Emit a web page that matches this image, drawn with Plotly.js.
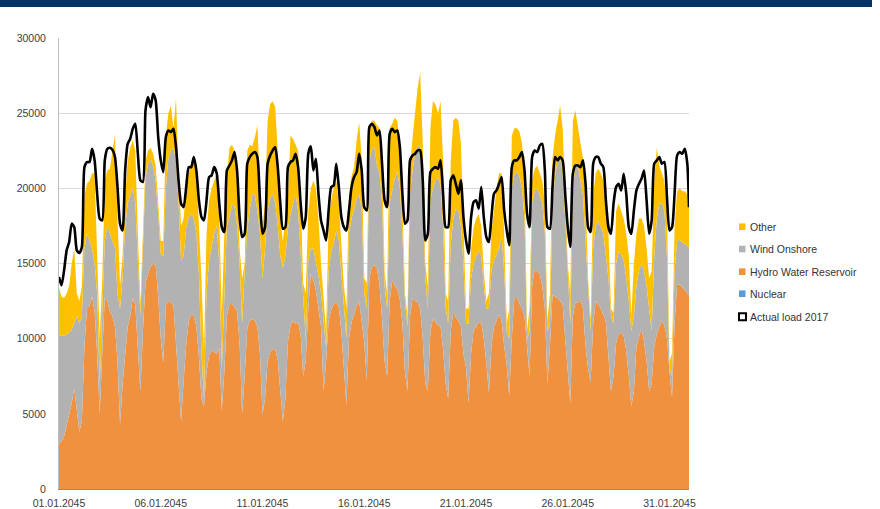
<!DOCTYPE html>
<html><head><meta charset="utf-8">
<script src="https://cdn.plot.ly/plotly-3.0.1.min.js"></script>
<style>
html,body{margin:0;padding:0;background:#fff;}
#chart{width:880px;height:509px;position:absolute;left:0;top:0;}
#banner{position:absolute;left:0;top:0;width:872px;height:7px;background:#003366;z-index:10;}
</style>
</head><body>
<div id="chart"></div><div id="banner"></div>
<script>
// ---- Data (MW), sampled every 3 hours: 00,03,...,21 for each day of January 2045, plus 31.01 23:00 ----
const sampleHours = [0,3,6,9,12,15,18,21];
const nDays = 31;
const lastStamp = '2045-01-31 23:00';

const nuclearTimes = ['2045-01-01 00:00', '2045-01-31 23:00'];
const nuclear = [0, 0];

const hydro = [
 3000,3200,3500,4200,5000,5700,6700,5000,
 3800,4500,9500,12000,12200,12800,11800,9000,
 5000,9000,12700,12500,11800,11500,10800,8500,
 4300,7000,9200,10800,11500,12700,12200,9300,
 6500,10500,13700,14300,14800,15000,14900,12800,
 10000,8400,12200,12500,12400,12200,9800,7000,
 4500,7200,9600,11200,11600,11500,10800,8800,
 6000,5500,7800,8900,9200,9100,9000,9400,
 5200,7800,11500,12300,12300,12100,11800,9700,
 5000,7500,10700,11200,11300,11200,10800,9000,
 5000,6000,8500,9100,9300,9300,8600,6500,
 4500,6000,9800,10900,11200,11000,11100,10300,
 7500,8500,12000,14300,13900,13200,12000,10800,
 6500,8500,11200,11900,12300,12400,12100,10500,
 8000,5600,10000,11100,11600,12200,12500,11000,
 9800,7200,14000,14800,14900,14650,13600,11300,
 8500,7500,12500,13900,13500,13300,12600,11000,
 7800,6500,11500,12700,12500,12400,12000,10000,
 7000,6500,10500,11300,11100,10900,10800,9300,
 7000,6000,10500,11800,11400,11200,10800,9000,
 8100,5700,9000,10600,10800,11100,11100,10000,
 8400,6400,9500,10800,11200,11600,11200,9500,
 8300,6200,10000,12700,12700,12400,12000,11500,
 9500,7500,13500,14600,14500,14300,13500,12000,
 7000,9500,12900,12800,12700,12500,12300,10000,
 7500,5700,11500,12400,12400,12550,12000,9500,
 8000,7100,11000,12500,12300,12000,11600,11100,
 8700,6500,7500,9700,10300,10400,10200,9200,
 7500,5500,6500,9500,10100,10700,9800,8500,
 6500,7000,9500,10300,10800,11200,10900,10000,
 7800,6100,11000,13600,13600,13400,13200,13000,
 12900
];

const windOnshore = [
 7200,7000,6700,6100,5400,4900,4300,6500,
 7200,7000,6500,5000,4300,3200,3200,4000,
 2000,3000,3800,5000,5200,5000,5200,4500,
 7700,7000,8200,8200,8000,7300,6800,6200,
 5000,5500,7000,7300,7100,6500,5600,5500,
 5600,7100,7800,9500,10100,10500,12000,12000,
 10700,8300,7800,6900,6700,6500,6200,5500,
 3000,500,5200,6300,6900,7900,8500,5600,
 2800,5200,6000,5800,6600,6700,5700,5300,
 6000,7000,6500,7400,8300,8300,7700,8000,
 9000,10000,10000,10200,10300,9700,8900,9000,
 10200,9500,7500,7400,7800,8600,7400,5200,
 5000,1400,3200,1700,2100,2000,2200,2200,
 4500,900,3300,3900,4000,4800,4400,4000,
 4000,4400,7000,6900,7000,7100,7100,7500,
 3200,4800,7800,7800,7800,6850,7400,7700,
 5000,4500,6500,5900,7200,7800,7400,6000,
 4700,4300,8100,8500,9800,10500,10700,9600,
 7000,5500,8700,8700,9400,9800,9400,8200,
 5000,5000,5800,6200,7200,7300,6700,6000,
 2900,5300,5000,4400,4700,4700,4400,3500,
 3600,5600,5000,4400,4400,4400,5600,5000,
 2200,3800,10000,8200,8400,8400,8000,6500,
 500,3000,5500,5200,5500,5200,5500,5000,
 3500,1500,6100,8000,9100,9500,8700,8000,
 6500,5300,8000,9400,9100,7950,7500,7000,
 5000,3400,5000,5000,5500,5400,5400,4400,
 5300,5000,3500,5300,5500,5200,5000,4800,
 5000,5000,5000,4000,4400,4300,4700,5000,
 5500,3500,6000,7700,8200,7800,7600,5500,
 200,1400,3500,2900,3000,3000,3100,3200,
 3100
];

const other = [
 3200,2600,2500,2700,3100,4400,5000,1500,
 1500,2000,3500,3300,4000,5000,6000,3000,
 3000,2000,4000,3700,4300,6000,7500,5000,
 1500,1500,2100,2800,3200,3200,3500,1500,
 800,1000,1100,900,800,800,1000,700,
 900,1000,3500,3000,3000,1300,4200,2000,
 2300,2500,2600,2900,3500,3800,4000,3200,
 5000,3200,4000,4000,3900,3500,3500,3000,
 3700,4000,3300,4600,4000,3700,3500,1000,
 3000,500,5300,4300,3200,3900,5700,3000,
 3500,3000,6000,6300,6200,6400,5000,2500,
 1800,2500,2200,5200,4300,3300,4000,4000,
 1200,3100,3300,4000,4500,4800,3800,2000,
 1500,1100,3300,3400,3700,3300,2500,1500,
 1500,2000,2500,2800,2800,3900,4800,3500,
 1000,1700,2200,1900,1800,2700,3000,3000,
 1000,1000,5000,4500,4000,3400,3000,2000,
 500,700,1800,2200,2900,3800,5000,3400,
 1000,1500,4800,5800,5100,4300,5600,4300,
 1000,1500,5500,6500,6100,6000,5500,3000,
 1000,1000,2000,2400,2500,2500,2000,1000,
 500,1000,2500,3300,4400,5000,4200,2500,
 500,2000,3500,3100,2900,3000,3000,3000,
 600,1500,1500,1500,1500,1500,1500,2000,
 700,2000,3000,2700,2700,3500,3000,2000,
 1000,2000,5000,3400,2500,2500,2500,3000,
 1000,700,3500,3500,3500,3600,3500,3000,
 3000,500,700,3500,3200,2900,2800,3000,
 3000,1000,3500,3500,3500,3000,3000,2500,
 2000,4000,5000,4700,2500,2000,2000,3000,
 500,1500,3000,3300,3400,3400,3500,3400,
 3500
];

const actualLoad2017 = [
 14100,13550,14540,15870,16430,17650,17420,15870,
 15700,16100,21410,21750,21750,22630,21860,19640,
 17980,17870,21860,22630,22700,22560,22080,20080,
 17650,17200,21190,22960,23300,23960,24300,22300,
 20530,20420,25180,26070,25400,26290,25850,23410,
 21860,21080,23410,23850,23740,23960,22740,20530,
 18980,18750,20080,21410,21410,22080,21190,19200,
 18090,17870,19200,20750,20860,21410,21000,19000,
 17420,17090,21190,21520,21860,22410,21190,18090,
 16760,16980,21640,22080,22300,22410,22080,19200,
 16980,17420,21640,22190,22520,22740,21410,18980,
 17310,17420,21410,21750,21860,22300,21410,18980,
 17310,18090,22300,22790,21190,21970,19640,17870,
 17200,16540,18530,20080,20190,21640,20080,18090,
 17420,17200,18530,20080,20750,21080,22300,21190,
 18750,18530,24070,24290,24070,23520,23850,21630,
 19200,18750,23630,23960,23740,23850,22740,19640,
 17650,17870,21860,22190,22300,22520,22520,20530,
 16540,16980,21080,21300,21410,21300,21860,19640,
 17420,17420,20530,20860,20300,19640,20530,18090,
 16540,15650,18090,19090,19200,18640,20080,18090,
 16760,16430,18090,19640,19860,20300,20750,18530,
 17200,16210,21410,21860,21860,22080,22410,21190,
 18310,17420,22080,22520,22410,22850,22960,21190,
 17420,17310,20080,22080,21860,22080,21860,19640,
 17420,16100,20970,21520,21520,21410,21860,20300,
 17420,17090,21640,22080,22080,21640,21410,19200,
 17420,16980,18980,20080,20300,19860,20970,19640,
 17420,16980,18530,19860,20300,20640,21190,19200,
 16980,17870,21640,21860,22080,21640,21750,19420,
 17200,17420,19640,22190,22410,22300,22630,21640,
 18750
];

const tickDates = ['2045-01-01','2045-01-06','2045-01-11','2045-01-16','2045-01-21','2045-01-26','2045-01-31'];
const tickLabels = ['01.01.2045','06.01.2045','11.01.2045','16.01.2045','21.01.2045','26.01.2045','31.01.2045'];
const yTicks = [0,5000,10000,15000,20000,25000,30000];

const legendNames = ['Other','Wind Onshore','Hydro Water Reservoir','Nuclear','Actual load 2017'];

// ---- time axis (sampling grid) ----
const pad = n => String(n).padStart(2,'0');
const time = [];
for (let d = 1; d <= nDays; d++) for (const h of sampleHours) time.push(`2045-01-${pad(d)} ${pad(h)}:00`);
time.push(lastStamp);

// ---- styles ----
const C = {other:'#ffc000', wind:'#b2b2b2', hydro:'#f0913f', nuclear:'#5b9bd5', load:'#000000'};
const FONT = 'Liberation Sans, Arial, sans-serif';

const W = 880, H = 509, M = {l:59, r:191, t:38, b:20};
const pw = W - M.l - M.r, ph = H - M.t - M.b;
const px2x = px => (px - M.l) / pw;
const py2y = py => (H - M.b - py) / ph;

const traces = [
 {x: nuclearTimes, y: nuclear, type:'scatter', mode:'lines', fill:'tozeroy', line:{width:0, color:C.nuclear}, fillcolor:C.nuclear, name:'Nuclear', showlegend:false, hoverinfo:'skip'},
 {x: time, y: hydro, type:'scatter', mode:'lines', stackgroup:'gen', line:{width:0, color:C.hydro}, fillcolor:C.hydro, name:'Hydro Water Reservoir', showlegend:false},
 {x: time, y: windOnshore, type:'scatter', mode:'lines', stackgroup:'gen', line:{width:0, color:C.wind}, fillcolor:C.wind, name:'Wind Onshore', showlegend:false},
 {x: time, y: other, type:'scatter', mode:'lines', stackgroup:'gen', line:{width:0, color:C.other}, fillcolor:C.other, name:'Other', showlegend:false},
 {x: time, y: actualLoad2017, type:'scatter', mode:'lines', line:{width:2.6, color:C.load, shape:'spline', smoothing:0.6}, name:'Actual load 2017', showlegend:false}
];

// ---- manual legend (small squares + labels) ----
const legendColors = [C.other, C.wind, C.hydro, C.nuclear, null];
const legY = [226.7, 249, 271.7, 293.7, 316.7];
const shapes = [];
const annotations = [];
legendNames.forEach((nm, i) => {
  const cy = legY[i];
  if (legendColors[i]) {
    shapes.push({type:'rect', xref:'paper', yref:'paper', x0:px2x(739), x1:px2x(745.5), y0:py2y(cy+3.3), y1:py2y(cy-3.3), fillcolor:legendColors[i], line:{width:0}});
  } else {
    shapes.push({type:'rect', xref:'paper', yref:'paper', x0:px2x(739), x1:px2x(746), y0:py2y(cy+3.5), y1:py2y(cy-3.5), fillcolor:'#ffffff', line:{width:2, color:'#000'}});
  }
  annotations.push({xref:'paper', yref:'paper', x:px2x(748), y:py2y(cy), xanchor:'left', yanchor:'middle', showarrow:false, text:nm, font:{family:FONT, size:10.5, color:'#333'}});
});

const layout = {
  width:W, height:H, margin:M, paper_bgcolor:'#fff', plot_bgcolor:'#fff',
  showlegend:false,
  font:{family:FONT, size:10.5, color:'#404040'},
  xaxis:{type:'date', range:['2045-01-01 00:00', lastStamp], tickvals:tickDates, ticktext:tickLabels, ticks:'', showgrid:false, zeroline:false, showline:true, linecolor:'#8c8c8c', linewidth:1, ticklabelstandoff:4, tickfont:{family:FONT, size:10.5, color:'#404040'}},
  yaxis:{range:[0,30000], tickvals:yTicks, tickformat:'d', ticks:'', showgrid:true, gridcolor:'#d9d9d9', gridwidth:1, zeroline:false, showline:true, linecolor:'#bfbfbf', linewidth:1, ticklabelstandoff:10, tickfont:{family:FONT, size:10.5, color:'#404040'}},
  shapes, annotations
};

Plotly.newPlot('chart', traces, layout, {staticPlot:true, displayModeBar:false});
</script>
</body></html>
